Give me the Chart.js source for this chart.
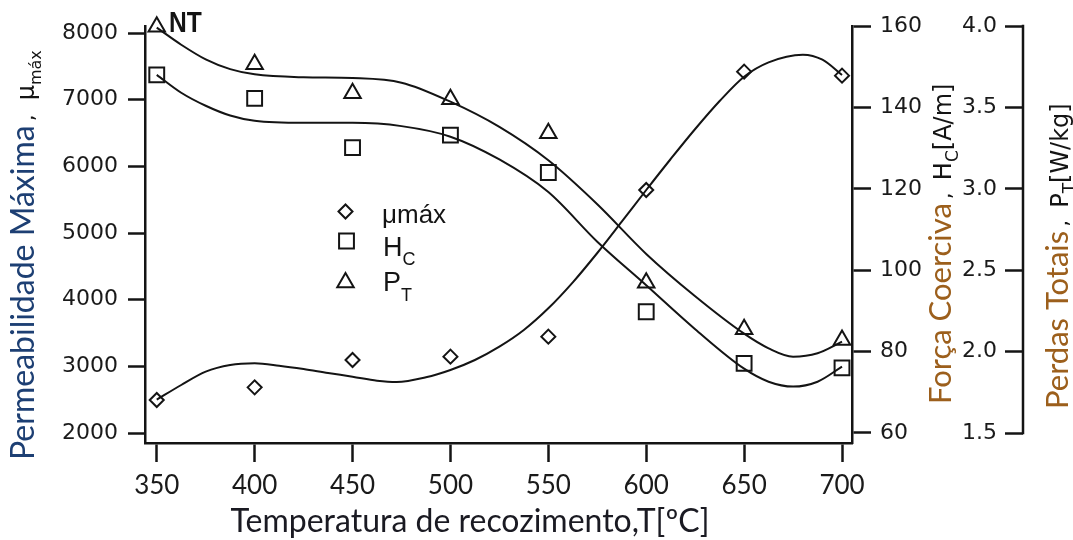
<!DOCTYPE html>
<html><head><meta charset="utf-8">
<script src="https://cdn.jsdelivr.net/npm/chart.js@4.4.1/dist/chart.umd.min.js"></script>
<style>html,body{margin:0;padding:0;background:#fff;overflow:hidden}#wrap{width:1073px;height:540px}</style>
</head><body><div id="wrap"><canvas id="c" width="1073" height="540"></canvas></div>
<script>
// measured points
const temps = [350, 400, 450, 500, 550, 600, 650, 700];
const muMax = [2495, 2685, 3095, 3145, 3445, 5645, 7420, 7360];
const hcVals = [148.0, 142.2, 130.1, 133.2, 124.0, 89.8, 77.1, 76.0];
const ptVals = [3.996, 3.765, 3.587, 3.55, 3.341, 2.423, 2.137, 2.071];

// fitted curves
const muFitT = [350, 362.5, 375, 387.5, 400, 412.5, 425, 437.5, 450, 462.5, 472.5, 487.5, 500, 512.5, 525, 537.5, 550, 562.5, 575, 587.5, 600, 612.5, 625, 637.5, 650, 662.5, 680, 690, 700];
const muFit  = [2500, 2720, 2920, 3020, 3045, 3010, 2960, 2900, 2845, 2785, 2765, 2835, 2945, 3095, 3295, 3545, 3870, 4260, 4700, 5170, 5645, 6110, 6560, 6980, 7345, 7560, 7675, 7600, 7370];
const hcFitT = [350, 362.5, 375, 387.5, 400, 425, 450, 475, 500, 525, 550, 575, 600, 625, 650, 662.5, 675, 687.5, 700];
const hcFit  = [148.0, 143.6, 140.4, 138.0, 136.7, 136.2, 136.2, 135.4, 132.8, 127.2, 119.2, 107.0, 96.3, 85.5, 75.8, 72.6, 71.4, 72.6, 76.3];
const ptFitT = [350, 362.5, 375, 387.5, 400, 425, 450, 475, 500, 525, 550, 575, 600, 625, 650, 662.5, 675, 687.5, 700];
const ptFit  = [3.99, 3.885, 3.795, 3.735, 3.703, 3.685, 3.68, 3.652, 3.535, 3.38, 3.175, 2.905, 2.6, 2.34, 2.11, 2.02, 1.969, 1.99, 2.061];

// tick labels
const xTicks = [350, 400, 450, 500, 550, 600, 650, 700];
const muTicks = [2000, 3000, 4000, 5000, 6000, 7000, 8000];
const hcTicks = [60, 80, 100, 120, 140, 160];
const ptTicks = [1.5, 2.0, 2.5, 3.0, 3.5, 4.0];

const INK = '#141414';
const pts = (xs, ys) => xs.map((x, i) => ({x: x, y: ys[i]}));
const setTicks = arr => s => { s.ticks = arr.map(v => ({value: v})); };

function drawRuns(ctx, runs, x0, y0, rotate) {
  ctx.save();
  ctx.translate(x0, y0);
  if (rotate) ctx.rotate(-Math.PI / 2);
  ctx.textBaseline = 'alphabetic';
  ctx.textAlign = 'left';
  let pos = 0;
  for (const r of runs) {
    ctx.font = r.font;
    ctx.fillStyle = r.color || INK;
    ctx.fillText(r.text, pos, r.dy || 0);
    pos += ctx.measureText(r.text).width + (r.gap || 0);
  }
  ctx.restore();
}

const annot = {
  id: 'annot',
  afterDraw(chart) {
    const ctx = chart.ctx;
    const s3 = chart.scales.y3;
    // Pt axis line
    ctx.save();
    ctx.strokeStyle = INK; ctx.lineWidth = 2.5;
    ctx.beginPath();
    ctx.moveTo(s3.left, s3.getPixelForValue(ptTicks[ptTicks.length - 1]) - 1.25);
    ctx.lineTo(s3.left, s3.getPixelForValue(ptTicks[0]) + 1.25);
    ctx.stroke();
    ctx.restore();

    // axis titles
    drawRuns(ctx, [
      {text: 'Permeabilidade Máxima', font: '32px Lato', color: '#1d3f73', gap: 4},
      {text: ',', font: '22px DejaVu Sans', gap: 14},
      {text: 'μ', font: '24px DejaVu Sans'},
      {text: 'máx', font: '16px DejaVu Sans', dy: 7}
    ], 34, 460, true);
    drawRuns(ctx, [
      {text: 'Força Coerciva', font: '31px Lato', color: '#9c5f1c', gap: 4},
      {text: ',', font: '22px DejaVu Sans', gap: 12},
      {text: 'H', font: '24px DejaVu Sans'},
      {text: 'C', font: '17px DejaVu Sans', dy: 7},
      {text: '[A/m]', font: '24px DejaVu Sans'}
    ], 951, 404, true);
    drawRuns(ctx, [
      {text: 'Perdas Totais', font: '31px Lato', color: '#9c5f1c', gap: 4},
      {text: ',', font: '22px DejaVu Sans', gap: 12},
      {text: 'P', font: '24px DejaVu Sans'},
      {text: 'T', font: '17px DejaVu Sans', dy: 7},
      {text: '[W/kg]', font: '24px DejaVu Sans'}
    ], 1068, 409, true);
    // x title
    ctx.save();
    ctx.font = '32px Lato';
    const xt = 'Temperatura de recozimento,T[ºC]';
    const w = ctx.measureText(xt).width;
    ctx.restore();
    drawRuns(ctx, [{text: xt, font: '32px Lato', color: '#1a1a22'}], 470 - w / 2, 532, false);

    // legend
    ctx.save();
    ctx.strokeStyle = INK; ctx.fillStyle = 'rgba(0,0,0,0)'; ctx.lineWidth = 2;
    const dp = Chart.helpers.drawPoint;
    dp(ctx, {pointStyle: 'rectRot', radius: 7, borderWidth: 2, rotation: 0}, 345.5, 211.5);
    dp(ctx, {pointStyle: 'rect', radius: 10.5, borderWidth: 2, rotation: 0}, 346.5, 241);
    dp(ctx, {pointStyle: 'triangle', radius: 9.5, borderWidth: 2, rotation: 0}, 345.5, 282.5);
    ctx.restore();
    drawRuns(ctx, [{text: 'μmáx', font: '26px Liberation Sans'}], 382, 223, false);
    drawRuns(ctx, [{text: 'H', font: '27px Liberation Sans'}, {text: 'C', font: '18px Liberation Sans', dy: 9}], 383, 256, false);
    drawRuns(ctx, [{text: 'P', font: '27px Liberation Sans'}, {text: 'T', font: '18px Liberation Sans', dy: 10}], 383, 291, false);

    // NT label
    ctx.save();
    ctx.translate(169, 32);
    ctx.scale(0.82, 1);
    ctx.font = 'bold 30px Liberation Sans';
    ctx.fillStyle = INK;
    ctx.textBaseline = 'alphabetic';
    ctx.fillText('NT', 0, 0);
    ctx.restore();
  }
};

const tickFont = {family: 'DejaVu Sans', size: 22};
const lineDs = (label, xs, ys, axis) => ({
  label, data: pts(xs, ys), yAxisID: axis, borderColor: INK, borderWidth: 2,
  pointRadius: 0, cubicInterpolationMode: 'monotone', fill: false, showLine: true
});
const markDs = (label, xs, ys, axis, style, r) => ({
  label, data: pts(xs, ys), yAxisID: axis, showLine: false, pointStyle: style,
  pointRadius: r, pointBorderWidth: 2, pointBorderColor: INK,
  pointBackgroundColor: 'rgba(0,0,0,0)', borderColor: INK, clip: false
});

new Chart(document.getElementById('c').getContext('2d'), {
  type: 'line',
  data: {
    datasets: [
      lineDs('μmáx fit', muFitT, muFit, 'y'),
      lineDs('HC fit', hcFitT, hcFit, 'y2'),
      lineDs('PT fit', ptFitT, ptFit, 'y3'),
      markDs('μmáx', temps, muMax, 'y', 'rectRot', 7),
      markDs('HC', temps, hcVals, 'y2', 'rect', 10.5),
      markDs('PT', temps, ptVals, 'y3', 'triangle', 9.5)
    ]
  },
  options: {
    responsive: false,
    animation: false,
    devicePixelRatio: 1,
    events: [],
    layout: {padding: {top: 26, left: 0, right: 0, bottom: 0}},
    plugins: {legend: {display: false}, tooltip: {enabled: false}},
    scales: {
      x: {
        type: 'linear', min: 344, max: 705.1,
        afterBuildTicks: setTicks(xTicks),
        afterFit: s => { s.height = 97; },
        grid: {display: true, drawOnChartArea: false, drawTicks: true, tickLength: 19, tickWidth: 2.5, tickColor: INK},
        border: {display: true, color: INK, width: 2.5},
        ticks: {font: {family: 'Lato', size: 26}, color: '#1a1a1a', padding: 8, maxRotation: 0, autoSkip: false, callback: v => String(v)}
      },
      y: {
        position: 'left', min: 1850, max: 8105,
        afterBuildTicks: setTicks(muTicks),
        afterFit: s => { s.width = 145; },
        grid: {display: true, drawOnChartArea: false, drawTicks: true, tickLength: 17, tickWidth: 2.5, tickColor: INK},
        border: {display: true, color: INK, width: 2.5},
        ticks: {font: tickFont, color: '#1a1a1a', padding: 10, autoSkip: false, callback: v => String(v)}
      },
      y2: {
        position: 'right', weight: 0, min: 57.54, max: 160,
        afterBuildTicks: setTicks(hcTicks),
        afterFit: s => { s.width = 171; },
        grid: {display: true, drawOnChartArea: false, drawTicks: true, tickLength: 19, tickWidth: 2.5, tickColor: INK},
        border: {display: true, color: INK, width: 2.5},
        ticks: {font: tickFont, color: '#1a1a1a', padding: 9, autoSkip: false, callback: v => String(v)}
      },
      y3: {
        position: 'right', weight: 1, min: 1.4386, max: 4.0,
        afterBuildTicks: setTicks(ptTicks),
        afterFit: s => { s.width = 50; },
        grid: {display: true, drawOnChartArea: false, drawTicks: true, tickLength: -18, tickWidth: 2.5, tickColor: INK},
        border: {display: false},
        ticks: {font: tickFont, color: '#1a1a1a', mirror: true, padding: -26, autoSkip: false, callback: v => v.toFixed(1)}
      }
    }
  },
  plugins: [annot]
});
</script>
</body></html>
